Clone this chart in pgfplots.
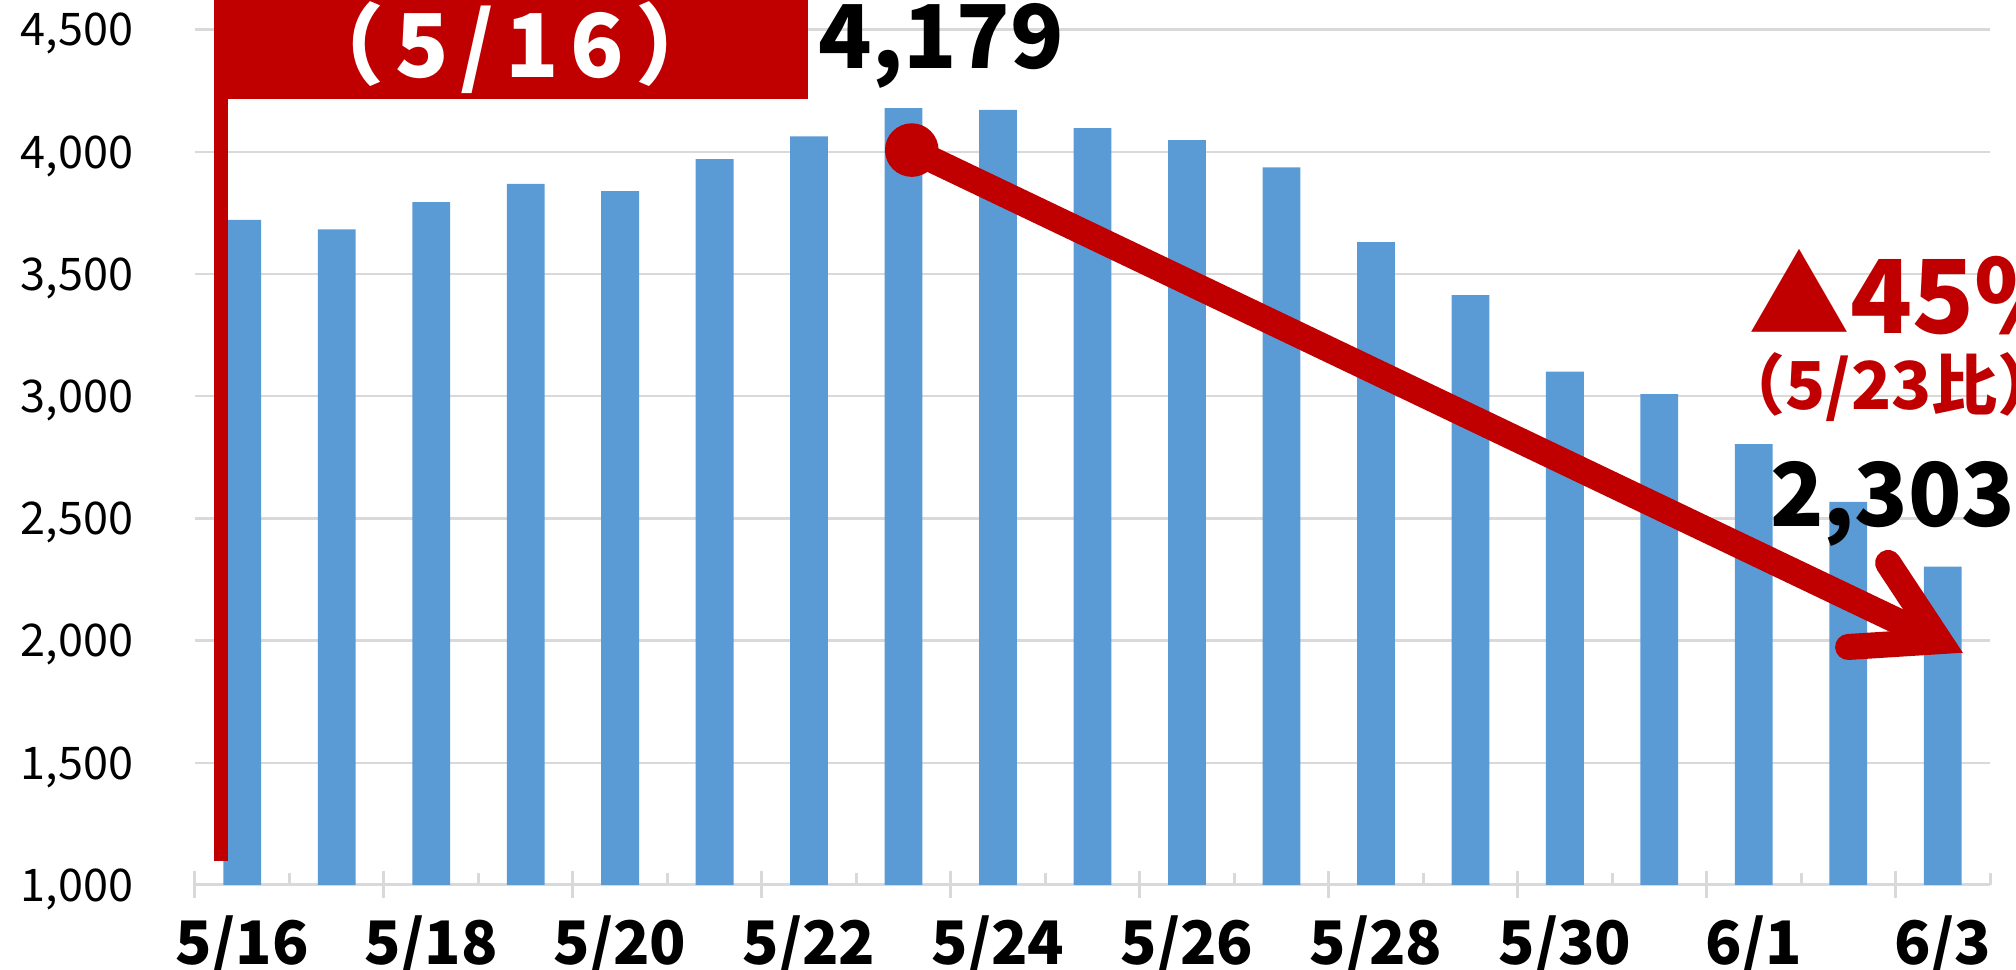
\documentclass[border=0pt]{standalone}
\usepackage{fontspec}
\setmainfont{Noto Sans CJK JP}
\usepackage{pgfplots}
\pgfplotsset{compat=1.18}
\definecolor{barblue}{HTML}{5B9BD5}
\definecolor{jred}{HTML}{C00000}
\definecolor{axgray}{HTML}{D9D9D9}
\begin{document}
\begin{tikzpicture}
\begin{axis}[
  scale only axis, width=448.75pt, height=213.85pt,
  xmin=-0.5, xmax=18.5, ymin=1000, ymax=4500,
  clip mode=individual,
  axis x line=bottom, axis y line=left,
  x axis line style={-, draw=axgray, line width=0.75pt},
  y axis line style={draw=none},
  tick align=inside,
  major tick length=0pt,
  minor tick length=3pt,
  tick style={draw=axgray, line width=0.75pt},
  y tick style={draw=none},
  xtick={0,2,...,18},
  xticklabels={5/16,5/18,5/20,5/22,5/24,5/26,5/28,5/30,6/1,6/3},
  minor xtick={0.5,2.5,...,18.5},
  extra x ticks={-0.5,1.5,...,17.5},
  extra x tick labels={},
  extra x tick style={tick align=center, major tick length=6.75pt, grid=none},
  ytick={1000,1500,...,4500},
  ymajorgrids,
  grid style={draw=axgray, line width=0.6pt},
  scaled y ticks=false,
  /pgf/number format/1000 sep={,},
  /pgf/number format/assume math mode=true,
  yticklabel style={font=\fontsize{11.25pt}{11.25pt}\selectfont, anchor=base east, inner sep=0pt, xshift=-15.25pt, yshift=-4.1pt},
  xticklabel style={font=\bfseries\fontsize{15pt}{15pt}\selectfont, anchor=base, inner sep=0pt, yshift=-20pt},
]
\addplot[ybar, bar width=0.4, fill=barblue, draw=none] coordinates {
 (0,3721) (1,3683) (2,3794) (3,3869) (4,3839) (5,3970) (6,4063) (7,4179)
 (8,4171) (9,4097) (10,4048) (11,3936) (12,3630) (13,3414) (14,3100)
 (15,3008) (16,2804) (17,2568) (18,2303)};
\coordinate (SW) at (rel axis cs:0,0);
\coordinate (NE) at (rel axis cs:1,1);
% 5/16 flag
\fill[jred] (axis cs:-0.299,4216) rectangle (axis cs:5.989,4621);
\draw[jred, line width=3.5pt] (axis cs:-0.225,4216) -- (axis cs:-0.225,1098);
\node[anchor=base, inner sep=0pt, text=white, font=\bfseries\fontsize{22pt}{22pt}\selectfont\addfontfeature{LetterSpace=13}] at (axis cs:2.834,4302) {（5/16）};
\node[anchor=base, inner sep=0pt, font=\bfseries\fontsize{22pt}{22pt}\selectfont] at (axis cs:7.40,4340) {4,179};
% arrow
\draw[jred, line width=6.5pt] (axis cs:7.087,4007) -- (axis cs:17.967,1997.6);
\draw[jred, line width=6.5pt, line cap=round, line join=miter] (axis cs:17.421,2317.5) -- (axis cs:17.967,1997.6) -- (axis cs:16.998,1973.8);
\fill[jred] (axis cs:7.087,4007) circle[radius=6.7pt];
% right annotations
\node[anchor=base west, inner sep=0pt, text=jred, font=\bfseries\fontsize{25.5pt}{25.5pt}\selectfont] at (axis cs:15.93,3255) {▲45\%};
\node[anchor=base west, inner sep=0pt, text=jred, font=\bfseries\fontsize{16.5pt}{16.5pt}\selectfont] at (axis cs:15.63,2944) {（5/23比）};
\node[anchor=base, inner sep=0pt, font=\bfseries\fontsize{22pt}{22pt}\selectfont] at (axis cs:17.47,2466) {2,303};
\end{axis}
\pgfresetboundingbox
\useasboundingbox ([xshift=-48.75pt,yshift=-21.25pt]SW) rectangle ([xshift=6.5pt,yshift=7.4pt]NE);
\end{tikzpicture}
\end{document}
